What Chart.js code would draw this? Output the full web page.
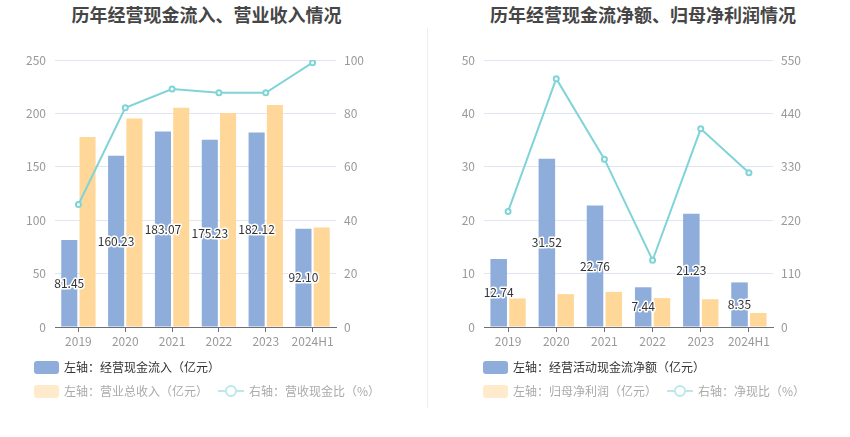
<!DOCTYPE html>
<html><head><meta charset="utf-8">
<script src="https://cdn.jsdelivr.net/npm/chart.js@4.4.1/dist/chart.umd.min.js"></script>
<style>
body{margin:0;width:850px;height:437px;position:relative;background:#fff;font-family:"Noto Sans CJK SC","Noto Sans",sans-serif;overflow:hidden}
.title{position:absolute;top:1px;font-size:18px;font-weight:bold;color:#464646;text-align:center;line-height:26px;white-space:nowrap}
.cv{position:absolute;top:0}
.sep{position:absolute;left:427px;top:28px;width:1px;height:380px;background:#eeeeee}
.sw{position:absolute;width:25px;height:13px;border-radius:3px}
.lt{position:absolute;font-size:12px;line-height:16px;white-space:nowrap}
.li{position:absolute;width:26px;height:12px}
.li .ln{position:absolute;left:0;top:5px;width:26px;height:2px;background:#B9E9EB}
.li .ci{position:absolute;left:7px;top:0;width:8px;height:8px;border:2px solid #B9E9EB;border-radius:50%;background:#fff}
</style></head>
<body>
<div class="title" style="left:0;width:413px">历年经营现金流入、营业收入情况</div>
<div class="title" style="left:425px;width:436px">历年经营现金流净额、归母净利润情况</div>
<div class="sep"></div>
<div class="cv" style="left:0"><canvas id="c1" width="425" height="360"></canvas></div>
<div class="cv" style="left:425px"><canvas id="c2" width="425" height="360"></canvas></div>

<div class="sw" style="left:34px;top:361px;background:#8EADDB"></div>
<div class="lt" style="left:64px;top:359px;color:#333">左轴：经营现金流入（亿元）</div>
<div class="sw" style="left:34px;top:385px;background:#FFEBCC"></div>
<div class="lt" style="left:64px;top:383px;color:#aaa">左轴：营业总收入（亿元）</div>
<div class="li" style="left:218px;top:385px"><div class="ln"></div><div class="ci"></div></div>
<div class="lt" style="left:249px;top:383px;color:#aaa">右轴：营收现金比（%）</div>

<div class="sw" style="left:483px;top:361px;background:#8EADDB"></div>
<div class="lt" style="left:513px;top:359px;color:#333">左轴：经营活动现金流净额（亿元）</div>
<div class="sw" style="left:483px;top:385px;background:#FFEBCC"></div>
<div class="lt" style="left:513px;top:383px;color:#aaa">左轴：归母净利润（亿元）</div>
<div class="li" style="left:667px;top:385px"><div class="ln"></div><div class="ci"></div></div>
<div class="lt" style="left:698px;top:383px;color:#aaa">右轴：净现比（%）</div>

<script>
const years = ['2019','2020','2021','2022','2023','2024H1'];
// chart 1
const inflow = [81.45,160.23,183.07,175.23,182.12,92.10];
const revenue = [177.8,195.3,205.3,200.3,207.8,93.2];
const cashRatio = [45.9,82.1,89.1,87.7,87.7,99.0];
// chart 2
const netCash = [12.74,31.52,22.76,7.44,21.23,8.35];
const netProfit = [5.35,6.16,6.58,5.41,5.20,2.63];
const netRatio = [238.0,511.5,345.8,137.5,408.3,317.6];

const FONT = '"Noto Sans CJK SC","Noto Sans",sans-serif';
const BLUE = '#8EADDB', ORANGE = '#FFD899', TEAL = '#80D4D8';

const barLabels = {
  id:'barLabels',
  afterDatasetsDraw(chart){
    const ctx = chart.ctx;
    const idx = chart.data.datasets.findIndex(d=>d.showLabels);
    const meta = chart.getDatasetMeta(idx);
    ctx.save();
    ctx.font = '12px ' + FONT;
    ctx.textAlign = 'center'; ctx.textBaseline = 'middle';
    ctx.lineWidth = 3; ctx.lineJoin = 'round';
    ctx.strokeStyle = '#fff'; ctx.fillStyle = '#333';
    meta.data.forEach((bar,i)=>{
      const t = chart.data.datasets[idx].data[i].toFixed(2);
      const y = (bar.y + bar.base)/2;
      ctx.strokeText(t, bar.x, y);
      ctx.fillText(t, bar.x, y);
    });
    ctx.restore();
  }
};

function makeChart(id, bars1, bars2, line, lMax, lStep, rMax, rStep, lw, rw){
  return new Chart(document.getElementById(id), {
    type:'bar',
    data:{
      labels: years,
      datasets:[
        {type:'line', data:line, yAxisID:'y1', borderColor:TEAL, borderWidth:2, pointRadius:2.5, pointBorderWidth:2,
          pointBackgroundColor:'#fff', pointBorderColor:TEAL, tension:0, order:0},
        {data:bars1, backgroundColor:BLUE, borderColor:'#fff', borderWidth:0, yAxisID:'y', order:2, showLabels:true,
          categoryPercentage:0.78, barPercentage:0.88},
        {data:bars2, backgroundColor:ORANGE, borderWidth:0, yAxisID:'y', order:2,
          categoryPercentage:0.78, barPercentage:0.88}
      ]
    },
    options:{
      responsive:false, animation:false, devicePixelRatio:1,
      layout:{padding:{top:60, bottom:7, left:0, right:0}},
      plugins:{legend:{display:false}, tooltip:{enabled:false}},
      scales:{
        x:{offset:true,
           grid:{display:true, drawOnChartArea:false, drawTicks:true, tickLength:5, tickColor:'#6E7079', offset:false},
           border:{display:true, color:'#6E7079', width:1},
           ticks:{color:'#999', font:{size:12, family:FONT}, padding:2, maxRotation:0, autoSkip:false},
           afterFit(s){ s.height = 26; }},
        y:{position:'left', min:0, max:lMax,
           ticks:{stepSize:lStep, color:'#999', padding:9, font:{size:12, family:FONT}},
           grid:{color:'#E0E6F1', drawTicks:false, tickLength:0},
           border:{display:false},
           afterFit(s){ s.width = lw; }},
        y1:{position:'right', min:0, max:rMax,
           ticks:{stepSize:rStep, color:'#999', padding:8, font:{size:12, family:FONT}},
           grid:{display:false, drawTicks:false},
           border:{display:false},
           afterFit(s){ s.width = rw; }}
      }
    },
    plugins:[barLabels]
  });
}

makeChart('c1', inflow, revenue, cashRatio, 250, 50, 100, 20, 55, 89);
makeChart('c2', netCash, netProfit, netRatio, 50, 10, 550, 110, 59, 77);
</script>
</body></html>
